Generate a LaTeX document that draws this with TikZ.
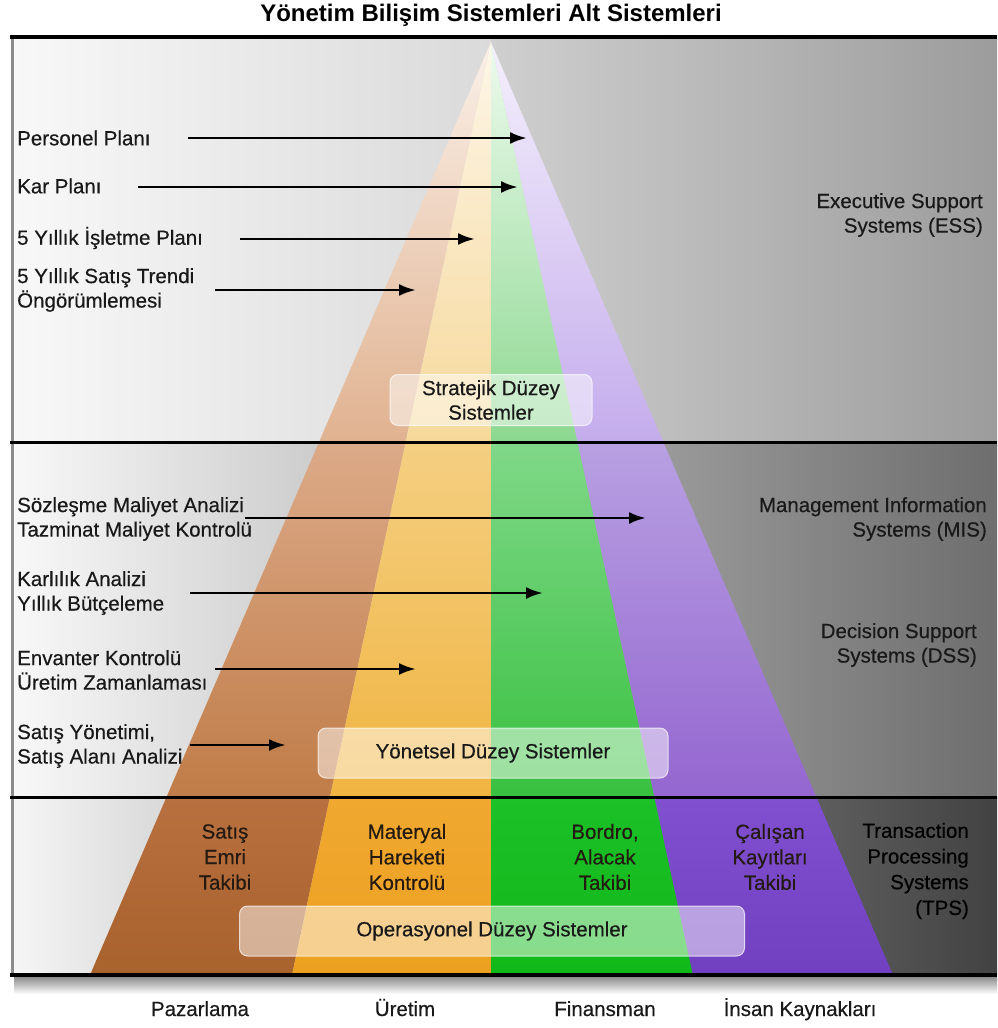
\documentclass[tikz,border=0pt]{standalone}
\usepackage{fontspec}
\setmainfont{Liberation Sans}
\newfontfamily\labelfont{Liberation Sans}[FakeBold=0.4]
\usetikzlibrary{arrows.meta}

% band backgrounds
\definecolor{bgTa}{HTML}{F8F8F8}\definecolor{bgTb}{HTML}{DADADA}
\definecolor{bgTc}{HTML}{CFCFCF}\definecolor{bgTd}{HTML}{9C9C9C}
\definecolor{bgMa}{HTML}{F8F8F8}\definecolor{bgMb}{HTML}{B4B4B4}
\definecolor{bgMc}{HTML}{B0B0B0}\definecolor{bgMd}{HTML}{6E6E6E}
\definecolor{bgBa}{HTML}{F6F6F6}\definecolor{bgBb}{HTML}{9A9A9A}
\definecolor{bgBc}{HTML}{909090}\definecolor{bgBd}{HTML}{424242}
% pyramid columns: top band / middle band / bottom band
\definecolor{brA}{HTML}{FAF0E8}\definecolor{brB}{HTML}{E0B290}
\definecolor{brC}{HTML}{DCAA88}\definecolor{brD}{HTML}{C07C48}
\definecolor{brE}{HTML}{B87040}\definecolor{brF}{HTML}{A8622C}
\definecolor{orA}{HTML}{FDF6E8}\definecolor{orB}{HTML}{F6D89A}
\definecolor{orC}{HTML}{F4CF82}\definecolor{orD}{HTML}{F0B440}
\definecolor{orE}{HTML}{F0A830}\definecolor{orF}{HTML}{ECA020}
\definecolor{grA}{HTML}{EEFAEE}\definecolor{grB}{HTML}{8CD890}
\definecolor{grC}{HTML}{80D888}\definecolor{grD}{HTML}{38C040}
\definecolor{grE}{HTML}{1CC028}\definecolor{grF}{HTML}{10B818}
\definecolor{puA}{HTML}{F4F0FC}\definecolor{puB}{HTML}{C4ACEC}
\definecolor{puC}{HTML}{B8A0E2}\definecolor{puD}{HTML}{9466D0}
\definecolor{puE}{HTML}{8050D0}\definecolor{puF}{HTML}{7040C0}
\definecolor{coltext}{HTML}{241A12}

\begin{document}
\begin{tikzpicture}[x=1pt,y=-1pt,
  txt/.style={font=\labelfont\fontsize{20.5}{24.5}\selectfont, inner sep=0pt, text=black!90},
  lefttxt/.style={txt, anchor=west, align=left},
  righttxt/.style={txt, anchor=east, align=right},
  coltxt/.style={txt, align=center, text=coltext, font=\labelfont\fontsize{20.5}{25.5}\selectfont},
  deptxt/.style={txt, anchor=base},
  levelbox/.style={txt, align=center, fill=white, fill opacity=0.5, text opacity=1,
    draw=white, draw opacity=0.7, line width=1pt, rounded corners=8pt},
  bandline/.style={line width=3pt, black},
  arr/.style={line width=2.8pt, black, -{Latex[length=17pt,width=12pt]}}
]
\useasboundingbox (0,0) rectangle (997,1028);
\fill[white] (0,0) rectangle (997,1028);

% ---- band backgrounds ----
\shade[left color=bgTa, right color=bgTb] (12,37) rectangle (491,442);
\shade[left color=bgTc, right color=bgTd] (491,37) rectangle (997,442);
\shade[left color=bgMa, right color=bgMb] (12,442) rectangle (491,797);
\shade[left color=bgMc, right color=bgMd] (491,442) rectangle (997,797);
\shade[left color=bgBa, right color=bgBb] (12,797) rectangle (491,975);
\shade[left color=bgBc, right color=bgBd] (491,797) rectangle (997,975);

% ---- pyramid columns ----
\coordinate (apex) at (491,42);
\begin{scope}
  \clip (apex) -- (90,975) -- (292,975) -- cycle;
  \shade[top color=brA, bottom color=brB] (0,42) rectangle (997,442);
  \shade[top color=brC, bottom color=brD] (0,442) rectangle (997,797);
  \shade[top color=brE, bottom color=brF] (0,797) rectangle (997,975);
\end{scope}
\begin{scope}
  \clip (apex) -- (292,975) -- (491,975) -- cycle;
  \shade[top color=orA, bottom color=orB] (0,42) rectangle (997,442);
  \shade[top color=orC, bottom color=orD] (0,442) rectangle (997,797);
  \shade[top color=orE, bottom color=orF] (0,797) rectangle (997,975);
\end{scope}
\begin{scope}
  \clip (apex) -- (491,975) -- (693,975) -- cycle;
  \shade[top color=grA, bottom color=grB] (0,42) rectangle (997,442);
  \shade[top color=grC, bottom color=grD] (0,442) rectangle (997,797);
  \shade[top color=grE, bottom color=grF] (0,797) rectangle (997,975);
\end{scope}
\begin{scope}
  \clip (apex) -- (693,975) -- (893,975) -- cycle;
  \shade[top color=puA, bottom color=puB] (0,42) rectangle (997,442);
  \shade[top color=puC, bottom color=puD] (0,442) rectangle (997,797);
  \shade[top color=puE, bottom color=puF] (0,797) rectangle (997,975);
\end{scope}

% ---- frame ----
\shade[top color=black!45, bottom color=white] (14,977) rectangle (997,994);
\draw[line width=3pt, black!45] (12,37) -- (12,976);
\draw[line width=4pt] (10,37) -- (997,37);
\draw[bandline] (10,442) -- (997,442);
\draw[bandline] (10,797) -- (997,797);
\draw[line width=4pt] (10,975) -- (997,975);

% ---- title ----
\node[font=\fontsize{24}{28}\selectfont\bfseries, inner sep=0pt] (title) at (491,15)
  {Yönetim Bilişim Sistemleri Alt Sistemleri};

% ---- level boxes ----
\node[levelbox, minimum width=202pt, minimum height=51pt] (strat) at (491,400)
  {Stratejik Düzey\\Sistemler};
\node[levelbox, minimum width=350pt, minimum height=50pt] (yonet) at (493,753)
  {Yönetsel Düzey Sistemler};
\node[levelbox, minimum width=505pt, minimum height=50pt] (opera) at (492,931)
  {Operasyonel Düzey Sistemler};

% ---- strategic level applications ----
\node[lefttxt] (per) at (17,138) {Personel Planı};
\node[lefttxt] (kar) at (17,186) {Kar Planı};
\node[lefttxt] (isl) at (17,238) {5 Yıllık İşletme Planı};
\node[lefttxt] (trd) at (17,290) {5 Yıllık Satış Trendi\\Öngörümlemesi};
\coordinate (perS) at (188,138); \coordinate (perT) at (527,138);
\coordinate (karS) at (138,187); \coordinate (karT) at (518,187);
\coordinate (islS) at (240,239); \coordinate (islT) at (475,239);
\coordinate (trdS) at (215,290); \coordinate (trdT) at (416,290);
\draw[arr] (perS) -- (perT);
\draw[arr] (karS) -- (karT);
\draw[arr] (islS) -- (islT);
\draw[arr] (trdS) -- (trdT);

% ---- management level applications ----
\node[lefttxt] (soz) at (17,519) {Sözleşme Maliyet Analizi\\Tazminat Maliyet Kontrolü};
\node[lefttxt] (krl) at (17,593) {Karlılık Analizi\\Yıllık Bütçeleme};
\node[lefttxt] (env) at (17,670) {Envanter Kontrolü\\Üretim Zamanlaması};
\node[lefttxt] (sty) at (17,746) {Satış Yönetimi,\\Satış Alanı Analizi};
\coordinate (sozS) at (245,518); \coordinate (sozT) at (646,518);
\coordinate (krlS) at (190,593); \coordinate (krlT) at (543,593);
\coordinate (envS) at (215,669); \coordinate (envT) at (416,669);
\coordinate (styS) at (190,745); \coordinate (styT) at (286,745);
\draw[arr] (sozS) -- (sozT);
\draw[arr] (krlS) -- (krlT);
\draw[arr] (envS) -- (envT);
\draw[arr] (styS) -- (styT);

% ---- system types ----
\node[righttxt] (ess) at (983,215) {Executive Support\\Systems (ESS)};
\node[righttxt] (mis) at (987,519) {Management Information\\Systems (MIS)};
\node[righttxt] (dss) at (977,645) {Decision Support\\Systems (DSS)};
\node[righttxt, text=black, font=\labelfont\fontsize{20.5}{25.7}\selectfont] (tps) at (969,871)
  {Transaction\\Processing\\Systems\\(TPS)};

% ---- operational level applications ----
\node[coltxt] (c1) at (225,857) {Satış\\Emri\\Takibi};
\node[coltxt] (c2) at (407,857) {Materyal\\Hareketi\\Kontrolü};
\node[coltxt] (c3) at (605,857) {Bordro,\\Alacak\\Takibi};
\node[coltxt] (c4) at (770,857) {Çalışan\\Kayıtları\\Takibi};

% ---- functional areas ----
\node[deptxt] (d1) at (200,1016) {Pazarlama};
\node[deptxt] (d2) at (405,1016) {Üretim};
\node[deptxt] (d3) at (605,1016) {Finansman};
\node[deptxt] (d4) at (800,1016) {İnsan Kaynakları};
\end{tikzpicture}
\end{document}
